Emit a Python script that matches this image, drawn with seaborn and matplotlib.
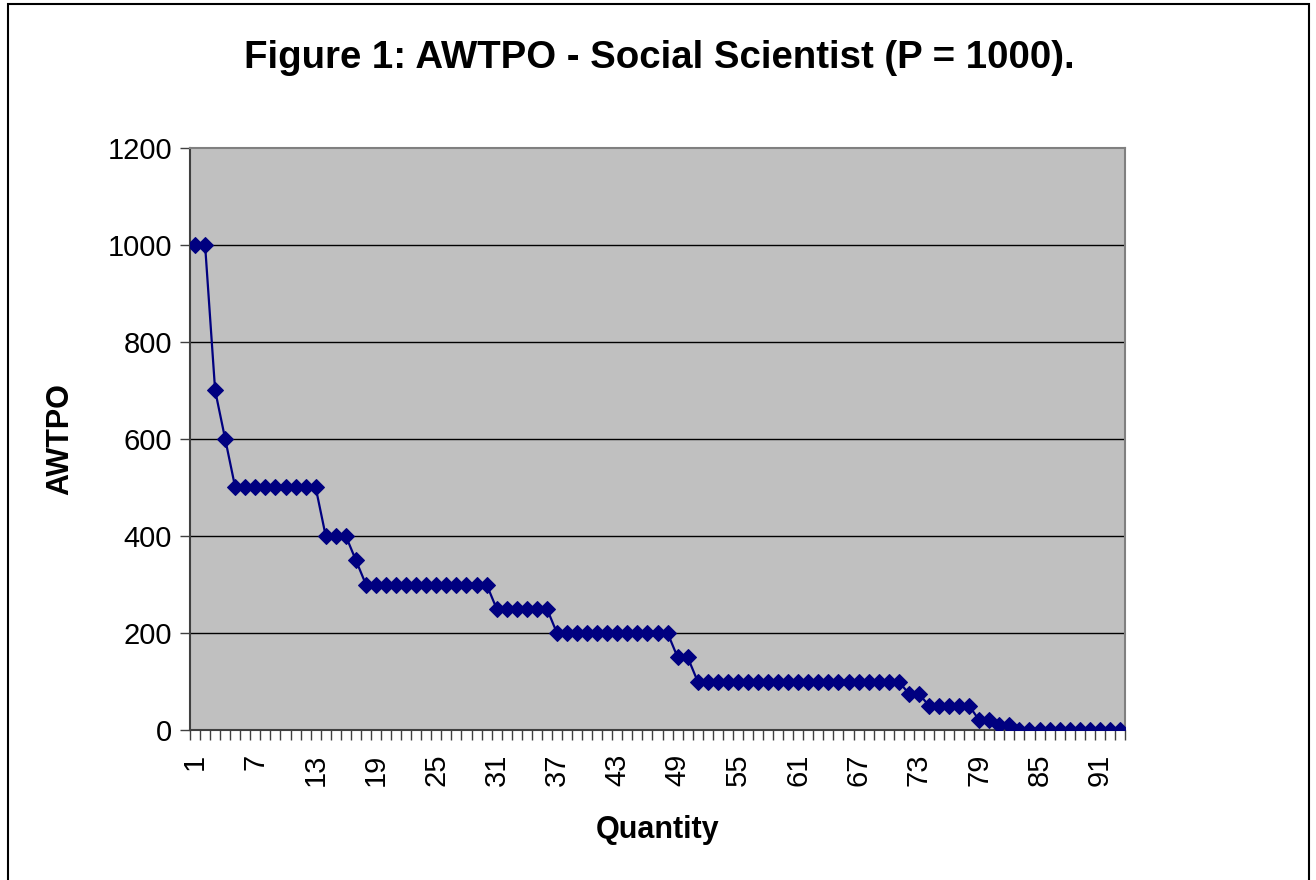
import matplotlib
matplotlib.use("Agg")
import matplotlib.pyplot as plt
import seaborn as sns
import numpy as np
import pandas as pd
from matplotlib.patches import Rectangle
from matplotlib.ticker import FixedLocator

# Data
quantity = list(range(1, 94))
awtpo = ([1000, 1000, 700, 600]
         + [500] * 9
         + [400] * 3
         + [350]
         + [300] * 13
         + [250] * 6
         + [200] * 12
         + [150] * 2
         + [100] * 21
         + [75] * 2
         + [50] * 5
         + [20] * 2
         + [10] * 2
         + [0] * 11)
y_ticks = [0, 200, 400, 600, 800, 1000, 1200]
x_tick_labels = list(range(1, 94, 6))

df = pd.DataFrame({"Quantity": quantity, "AWTPO": awtpo})

sns.set_theme(style="white")
plt.rcParams["font.family"] = ["Liberation Sans", "DejaVu Sans"]
plt.rcParams["text.color"] = "black"
plt.rcParams["axes.labelcolor"] = "black"
plt.rcParams["xtick.color"] = "black"
plt.rcParams["ytick.color"] = "black"

fig = plt.figure(figsize=(13.16, 8.8), dpi=100)
ax = fig.add_axes([190 / 1316, 1 - 730 / 880, (1125 - 190) / 1316, (730 - 148) / 880])
ax.set_facecolor("#C0C0C0")

sns.lineplot(data=df, x="Quantity", y="AWTPO", ax=ax, color="#000080",
             marker="D", markersize=8.5, markeredgecolor="#000080",
             linewidth=1.6, zorder=3)

ax.set_xlim(0.5, len(quantity) + 0.5)
ax.set_ylim(0, 1200)
ax.set_yticks(y_ticks)
ax.set_yticklabels([str(v) for v in y_ticks], fontsize=21)
for v in y_ticks[1:-1]:
    ax.axhline(v, color="black", linewidth=1.0, zorder=1)

ax.xaxis.set_major_locator(FixedLocator(x_tick_labels))
ax.set_xticklabels([str(v) for v in x_tick_labels], rotation=90, fontsize=21)
ax.xaxis.set_minor_locator(FixedLocator(np.arange(0.5, len(quantity) + 1, 1)))
ax.tick_params(axis="x", which="major", length=0, pad=17, colors="black")
ax.tick_params(axis="x", which="minor", length=7, width=1, color="#404040", direction="out", bottom=True)
ax.tick_params(axis="y", which="major", length=7, width=1, color="#404040", labelcolor="black",
               direction="out", left=True, pad=6)

for side, sp in ax.spines.items():
    sp.set_color("#808080")
    sp.set_linewidth(1.5)
ax.spines["left"].set_color("#404040")
ax.spines["bottom"].set_color("#404040")

ax.set_xlabel("Quantity", fontsize=22, fontweight="bold", labelpad=21, color="black")
ax.set_ylabel("AWTPO", fontsize=22, fontweight="bold", labelpad=23, color="black")

fig.text(659 / 1316, 1 - 58 / 880, "Figure 1: AWTPO - Social Scientist (P = 1000).",
         ha="center", va="center", fontsize=27.6, fontweight="bold", color="black")

# outer frame
fig.patches.append(Rectangle((8 / 1316, -0.01), (1309 - 8) / 1316, 1 - 4 / 880 + 0.01,
                             transform=fig.transFigure, fill=False,
                             edgecolor="black", linewidth=1.5))

fig.savefig("out.png", dpi=100)
